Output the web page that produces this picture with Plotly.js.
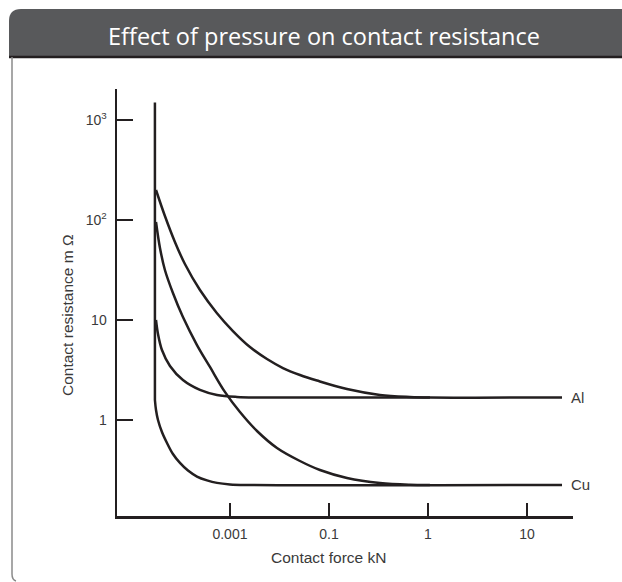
<!DOCTYPE html>
<html>
<head>
<meta charset="utf-8">
<script src="https://cdn.plot.ly/plotly-3.0.1.min.js"></script>
<style>html,body{margin:0;padding:0;background:#fff;}#chart{width:622px;height:582px;}</style>
</head>
<body>
<div id="chart"></div>
<script>
// x positions are in tick units (0.001 -> 1, 0.1 -> 2, 1 -> 3, 10 -> 4)
const xTickVals = [1, 2, 3, 4];
const xTickText = ['0.001', '0.1', '1', '10'];
const yTickVals = [1, 10, 100, 1000];
const yTickText = ['1', '10', '10<sup>2</sup>', '10<sup>3</sup>'];

const verticalX = [0.242, 0.242];
const verticalY = [1500, 1.585];

const alUpperX = [0.253, 0.343, 0.444, 0.545, 0.697, 0.869, 1.030, 1.202, 1.374, 1.535, 1.707, 1.879, 2.182, 2.515, 2.818, 3.020, 4.354];
const alUpperY = [199.5, 109.6, 60.3, 36.3, 19.95, 11.7, 7.76, 5.37, 4.07, 3.31, 2.82, 2.48, 2.04, 1.78, 1.70, 1.68, 1.68];

const alLowerX = [0.253, 0.273, 0.313, 0.394, 0.525, 0.697, 0.869, 1.071, 1.303, 3.020];
const alLowerY = [10, 7.24, 5.01, 3.47, 2.51, 2.0, 1.78, 1.70, 1.68, 1.68];

const cuUpperX = [0.253, 0.293, 0.343, 0.424, 0.525, 0.667, 0.798, 0.949, 1.101, 1.273, 1.475, 1.707, 1.909, 2.182, 2.515, 2.818, 3.020];
const cuUpperY = [95.5, 52.5, 31.6, 18.6, 10.7, 5.62, 3.39, 1.91, 1.20, 0.776, 0.525, 0.389, 0.316, 0.263, 0.234, 0.225, 0.224];

const cuLowerX = [0.242, 0.253, 0.273, 0.313, 0.364, 0.424, 0.495, 0.576, 0.667, 0.768, 0.869, 1.000, 1.152, 4.354];
const cuLowerY = [1.585, 1.259, 1.0, 0.759, 0.589, 0.457, 0.372, 0.312, 0.272, 0.249, 0.235, 0.227, 0.224, 0.224];

const seriesLabels = ['Al', 'Cu'];
const labelX = [4.42, 4.42];
const labelY = [1.68, 0.224];

const ink = '#231f20';
const lineStyle = {color: ink, width: 2.5, shape: 'spline', smoothing: 1};

const traces = [
  {x: verticalX, y: verticalY, mode: 'lines', line: {color: ink, width: 2.5}, hoverinfo: 'skip'},
  {x: alUpperX, y: alUpperY, mode: 'lines', line: lineStyle, name: 'Al'},
  {x: alLowerX, y: alLowerY, mode: 'lines', line: lineStyle, name: 'Al'},
  {x: cuUpperX, y: cuUpperY, mode: 'lines', line: lineStyle, name: 'Cu'},
  {x: cuLowerX, y: cuLowerY, mode: 'lines', line: lineStyle, name: 'Cu'}
];

const fam = 'Liberation Sans, Arial, sans-serif';
const txt = '#3a3a3a';
const labelFont = {family: fam, size: 14, color: txt};

const annotations = seriesLabels.map((t, i) => ({
  x: labelX[i], y: Math.log10(labelY[i]), xref: 'x', yref: 'y', text: t,
  showarrow: false, xanchor: 'left', yanchor: 'middle',
  font: {family: fam, size: 15, color: txt}
}));
annotations.push({
  x: (328 - 117) / 456, y: (516 - 557) / 427, xref: 'paper', yref: 'paper',
  text: 'Contact force kN', showarrow: false, xanchor: 'center', yanchor: 'middle',
  font: {family: fam, size: 15.5, color: txt}
});
annotations.push({
  x: (67 - 117) / 456, y: (516 - 316) / 427, xref: 'paper', yref: 'paper',
  text: 'Contact resistance m Ω', showarrow: false, textangle: -90,
  xanchor: 'center', yanchor: 'middle',
  font: {family: fam, size: 15.5, color: txt}
});

// frame geometry in paper units (plot area: x 117..573 px, y 89..516 px)
const px = v => (v - 117) / 456;
const py = v => (516 - v) / 427;
const headerPath = 'M ' + px(9) + ',' + py(57) + ' L ' + px(9) + ',' + py(21) +
  ' Q ' + px(9) + ',' + py(9) + ' ' + px(21) + ',' + py(9) +
  ' L ' + px(622) + ',' + py(9) + ' L ' + px(622) + ',' + py(57) + ' Z';
const borderPath = 'M ' + px(12) + ',' + py(57) + ' L ' + px(12) + ',' + py(574) +
  ' Q ' + px(12) + ',' + py(580) + ' ' + px(16) + ',' + py(581);

const layout = {
  width: 622, height: 582,
  margin: {l: 117, r: 49, t: 89, b: 66},
  paper_bgcolor: '#ffffff', plot_bgcolor: '#ffffff',
  showlegend: false,
  title: {
    text: 'Effect of pressure on contact resistance',
    x: 324 / 622, xref: 'container', xanchor: 'center',
    y: 1 - 37 / 582, yref: 'container', yanchor: 'middle',
    font: {family: 'Open Sans, sans-serif', size: 23.5, color: '#ffffff'}
  },
  xaxis: {
    range: [-0.141, 4.465], showgrid: false, zeroline: false,
    showline: true, linecolor: ink, linewidth: 2.5,
    ticks: 'inside', ticklen: 13, tickwidth: 2.5, tickcolor: ink,
    tickvals: xTickVals, ticktext: xTickText,
    tickfont: labelFont, ticklabelstandoff: 4
  },
  yaxis: {
    type: 'log', range: [-0.96, 3.31], showgrid: false, zeroline: false,
    showline: true, linecolor: ink, linewidth: 2.5,
    ticks: 'inside', ticklen: 16, tickwidth: 2.5, tickcolor: ink,
    tickvals: yTickVals, ticktext: yTickText,
    tickfont: labelFont, ticklabelstandoff: 5
  },
  shapes: [
    {type: 'path', xref: 'paper', yref: 'paper', path: headerPath,
     fillcolor: '#58595b', line: {width: 0}, layer: 'below'},
    {type: 'line', xref: 'paper', yref: 'paper', x0: px(9), x1: px(622), y0: py(57), y1: py(57),
     line: {color: ink, width: 2.5}},
    {type: 'path', xref: 'paper', yref: 'paper', path: borderPath,
     line: {color: '#8a8a8a', width: 1.5}}
  ],
  annotations: annotations
};

Plotly.newPlot('chart', traces, layout, {displayModeBar: false, staticPlot: true});
</script>
</body>
</html>
